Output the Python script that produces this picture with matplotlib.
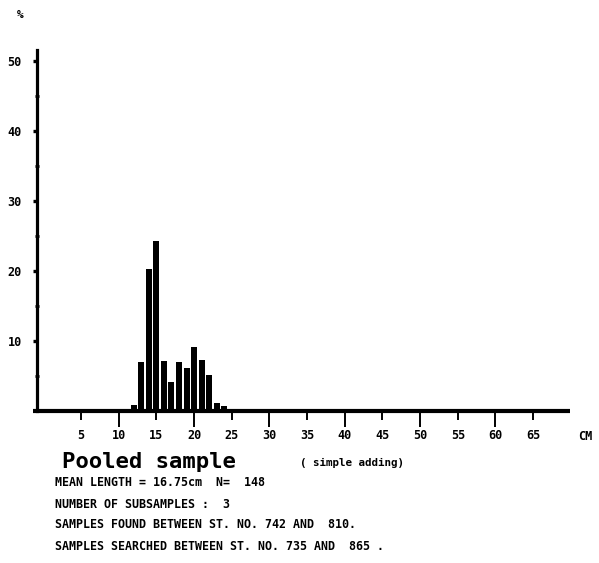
"""Length-frequency histogram of a pooled sample, redrawn from the printout."""

import matplotlib
matplotlib.use("Agg")
import matplotlib.pyplot as plt
import numpy as np

# length classes (cm) and percentage frequency
lengths = [12, 13, 14, 15, 16, 17, 18, 19, 20, 21, 22, 23, 24]
percent = [0.9, 7.0, 20.3, 24.3, 7.2, 4.1, 7.0, 6.2, 9.1, 7.3, 5.1, 1.1, 0.7]

x_long_ticks = [10, 20, 30, 40, 50, 60]
x_short_ticks = [5, 15, 25, 35, 45, 55, 65]
y_ticks = [10, 20, 30, 40, 50]
y_minor = [5, 15, 25, 35, 45]

info_lines = [
    "MEAN LENGTH = 16.75cm  N=  148",
    "NUMBER OF SUBSAMPLES :  3",
    "SAMPLES FOUND BETWEEN ST. NO. 742 AND  810.",
    "SAMPLES SEARCHED BETWEEN ST. NO. 735 AND  865 .",
]

MONO = "DejaVu Sans Mono"
W, H = 599, 563


def fx(px):
    return px / W


def fy(py):
    return 1 - py / H


fig = plt.figure(figsize=(W / 100, H / 100), dpi=100)
fig.patch.set_facecolor("white")
ax = fig.add_axes([fx(37), fy(411), (575 - 37) / W, (411 - 50) / H])

ax.bar(lengths, percent, width=0.8, color="black", zorder=3)

ax.set_xlim(-0.84, 70.55)
ax.set_ylim(0, 51.57)

for side in ("top", "right", "bottom"):
    ax.spines[side].set_visible(False)
ax.spines["left"].set_linewidth(2.3)

# thick baseline of the printout
ax.plot([-1.4, 69.9], [0, 0], color="black", lw=3.0,
        solid_capstyle="butt", clip_on=False, zorder=4)

# long ticks at the tens, short ticks at the odd fives, all labelled
ax.set_xticks(x_long_ticks, [str(v) for v in x_long_ticks])
ax.set_xticks(x_short_ticks, [str(v) for v in x_short_ticks], minor=True)
ax.tick_params(axis="x", which="major", direction="out", length=11.5,
               width=1.4, pad=1.5, labelsize=8.5)
ax.tick_params(axis="x", which="minor", direction="out", length=6.5,
               width=1.4, pad=6.5, labelsize=8.5)

ax.set_yticks(y_ticks, [str(v) for v in y_ticks])
ax.set_yticks(y_minor, minor=True)
ax.tick_params(axis="y", which="major", direction="out", length=3,
               width=2.4, pad=8, labelsize=8.5)
ax.tick_params(axis="y", which="minor", direction="inout", length=3,
               width=2.0)

labels = (ax.get_xticklabels() + ax.get_xticklabels(minor=True)
          + ax.get_yticklabels())
for label in labels:
    label.set_fontfamily(MONO)
    label.set_fontweight("bold")

fig.text(fx(20), fy(15), "%", family=MONO, fontsize=8, fontweight="bold",
         ha="center", va="center")
fig.text(fx(585), fy(437), "CM", family=MONO, fontsize=8.5,
         fontweight="bold", ha="center", va="center")

fig.text(fx(62), fy(462), "Pooled sample", family=MONO, fontsize=16,
         fontweight="bold", ha="left", va="center")
fig.text(fx(300), fy(463), "( simple adding)", family=MONO, fontsize=7.8,
         fontweight="bold", ha="left", va="center")

for row, text in zip([483, 504, 525, 547], info_lines):
    fig.text(fx(55), fy(row), text, family=MONO, fontsize=8.4,
             fontweight="bold", ha="left", va="center")

fig.savefig("out.png", dpi=100, facecolor="white")
